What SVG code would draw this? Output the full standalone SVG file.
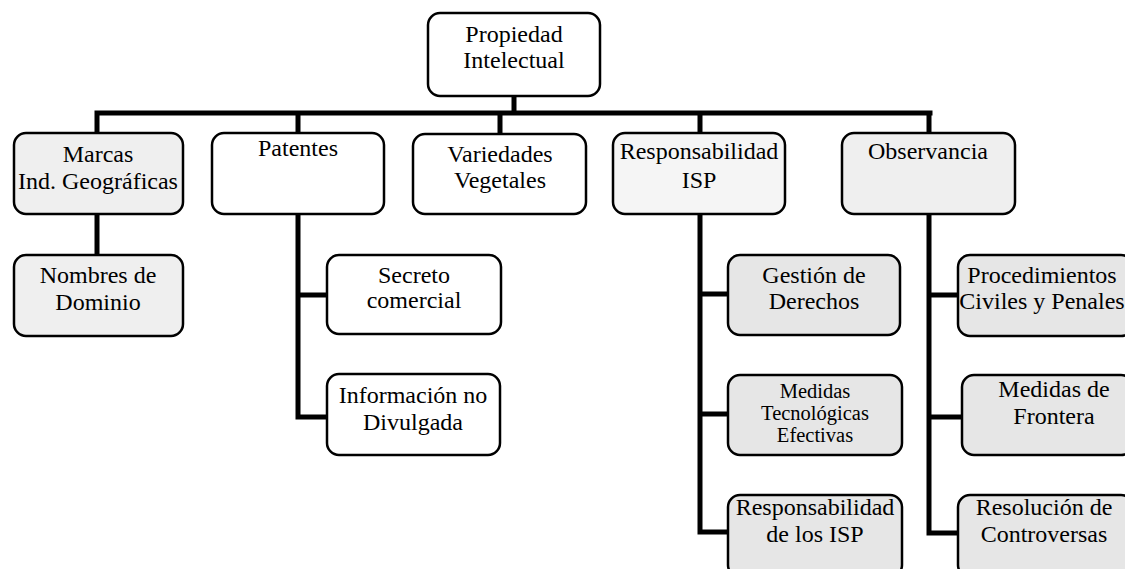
<svg xmlns="http://www.w3.org/2000/svg" width="1125" height="569" viewBox="0 0 1125 569">
<style>
.box{stroke:#000;stroke-width:2.5;fill:#fff}
.g1{fill:#efefef}
.g2{fill:#f5f5f5}
.g3{fill:#e6e6e6}
text{font-family:'Liberation Serif','Times New Roman','DejaVu Serif',serif;font-size:24px;fill:#000;text-anchor:middle}
.sm{font-size:20.5px}
.c{stroke:#000;stroke-width:5;fill:none;stroke-linecap:square}
</style>
<rect width="1125" height="569" fill="#fff"/>
<g id="connectors">
<path class="c" d="M514 96V113M97 113H930M97 113V133M298 113V133M500 113V134M700 113V133M929 113V133"/>
<path class="c" d="M97 214V255"/>
<path class="c" d="M298 214V417M298 295H327M298 417H327"/>
<path class="c" d="M700 214V532M700 294H728M700 414H728M700 532H728"/>
<path class="c" d="M929 214V533M929 295H958M929 417H962M929 533H958"/>
</g>
<g font-family="Liberation Serif, serif">
<g id="n-propiedad"><rect class="box" x="428" y="13" width="172" height="83" rx="12"/><text x="514" y="42">Propiedad</text><text x="514" y="68">Intelectual</text></g>
<g id="n-marcas"><rect class="box g1" x="14" y="133" width="169" height="81" rx="12"/><text x="98" y="162">Marcas</text><text x="98" y="189">Ind. Geográficas</text></g>
<g id="n-patentes"><rect class="box" x="212" y="133" width="172" height="81" rx="12"/><text x="298" y="156">Patentes</text></g>
<g id="n-variedades"><rect class="box" x="413" y="134" width="173" height="80" rx="12"/><text x="500" y="162">Variedades</text><text x="500" y="188">Vegetales</text></g>
<g id="n-respisp"><rect class="box g2" x="613" y="133" width="172" height="81" rx="12"/><text x="699" y="159">Responsabilidad</text><text x="699" y="188">ISP</text></g>
<g id="n-observancia"><rect class="box g1" x="842" y="133" width="173" height="81" rx="12"/><text x="928" y="159">Observancia</text></g>
<g id="n-nombres"><rect class="box g1" x="14" y="255" width="169" height="81" rx="12"/><text x="98" y="283">Nombres de</text><text x="98" y="310">Dominio</text></g>
<g id="n-secreto"><rect class="box" x="327" y="255" width="174" height="79" rx="12"/><text x="414" y="283">Secreto</text><text x="414" y="308">comercial</text></g>
<g id="n-informacion"><rect class="box" x="327" y="374" width="173" height="81" rx="12"/><text x="413" y="403">Información no</text><text x="413" y="430">Divulgada</text></g>
<g id="n-gestion"><rect class="box g3" x="728" y="255" width="172" height="80" rx="12"/><text x="814" y="283">Gestión de</text><text x="814" y="309">Derechos</text></g>
<g id="n-medidastec"><rect class="box g3" x="728" y="375" width="174" height="80" rx="12"/><text class="sm" x="815" y="398">Medidas</text><text class="sm" x="815" y="420">Tecnológicas</text><text class="sm" x="815" y="442">Efectivas</text></g>
<g id="n-respisp2"><rect class="box g3" x="728" y="495" width="174" height="82" rx="12"/><text x="815" y="515">Responsabilidad</text><text x="815" y="542">de los ISP</text></g>
<g id="n-procedimientos"><rect class="box g3" x="958" y="255" width="175" height="81" rx="12"/><text x="1042" y="283">Procedimientos</text><text x="1042" y="309">Civiles y Penales</text></g>
<g id="n-frontera"><rect class="box g3" x="962" y="375" width="171" height="80" rx="12"/><text x="1054" y="397">Medidas de</text><text x="1054" y="424">Frontera</text></g>
<g id="n-resolucion"><rect class="box g3" x="958" y="495" width="175" height="82" rx="12"/><text x="1044" y="515">Resolución de</text><text x="1044" y="542">Controversas</text></g>
</g>
</svg>
